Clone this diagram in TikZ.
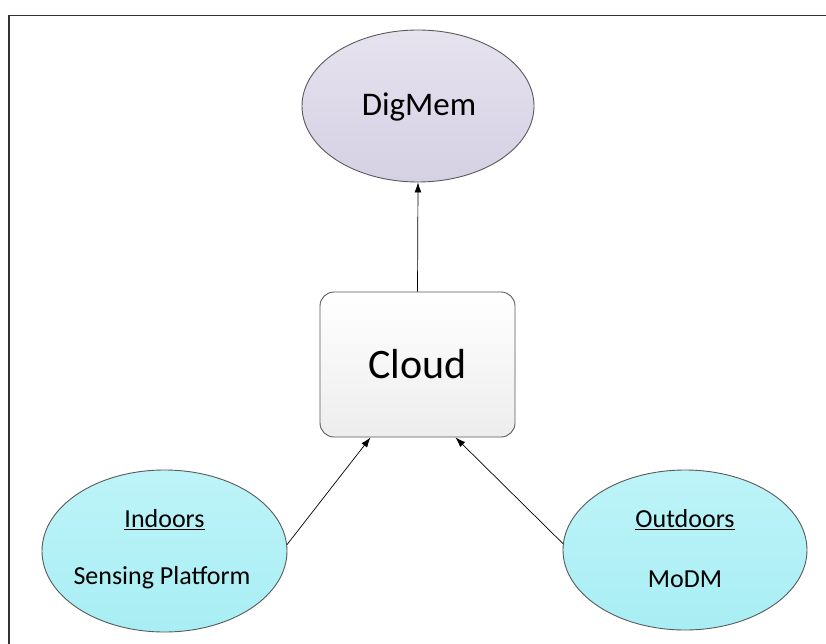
\documentclass[tikz,border=0pt]{standalone}
\usepackage{fontspec}
\setmainfont{Carlito}
\usetikzlibrary{shapes.geometric,arrows.meta}
\definecolor{lavtop}{HTML}{E6E3EF}
\definecolor{lavbot}{HTML}{D5D0E3}
\definecolor{cyantop}{HTML}{BDF4F8}
\definecolor{cyanbot}{HTML}{A8EEF4}
\definecolor{edgegray}{HTML}{5A5A5A}
\tikzset{
  ell/.style={ellipse, draw=edgegray, line width=0.9pt, inner sep=0pt, anchor=center},
  conn/.style={draw=black, line width=0.7pt, -{Latex[length=10pt,width=7pt]}},
  small/.style={font=\fontsize{26}{30}\selectfont},
}
\begin{document}
\begin{tikzpicture}[x=1pt,y=-1pt]
\useasboundingbox (0,0) rectangle (826,644);
\fill[white] (0,0) rectangle (826,644);
% frame
\draw[line width=1.8pt, color=black!80] (9,660) -- (9,15.5) -- (840,15.5);
% DigMem
\node[ell, top color=lavtop, bottom color=lavbot, minimum width=232pt, minimum height=152pt] (dig) at (418,106) {};
\node[font=\fontsize{33}{40}\selectfont] (digt) at (419,107) {DigMem};
% Cloud
\node[draw=edgegray, line width=0.9pt, rounded corners=14pt, top color=white, bottom color=black!7, minimum width=195pt, minimum height=145pt, inner sep=0pt] (cloud) at (417.5,364.5) {};
\node[font=\fontsize{42}{48}\selectfont] (cloudt) at (417.5,364.5) {Cloud};
% Indoors
\node[ell, top color=cyantop, bottom color=cyanbot, minimum width=245pt, minimum height=162pt] (ind) at (164.5,551) {};
\node[small] (indt1) at (164.5,520) {\underline{Indoors}};
\node[small] (indt2) at (162,578) {Sensing Platform};
% Outdoors
\node[ell, top color=cyantop, bottom color=cyanbot, minimum width=244pt, minimum height=160pt] (out) at (685,550) {};
\node[small] (outt1) at (685,520) {\underline{Outdoors}};
\node[small] (outt2) at (685,579) {MoDM};
% connectors
\draw[conn] (ind.3) -- ([xshift=-47pt]cloud.south);
\draw[conn] (cloud.north) -- (dig.south);
\draw[conn] (out.177) -- ([xshift=38pt]cloud.south);
\end{tikzpicture}
\end{document}
